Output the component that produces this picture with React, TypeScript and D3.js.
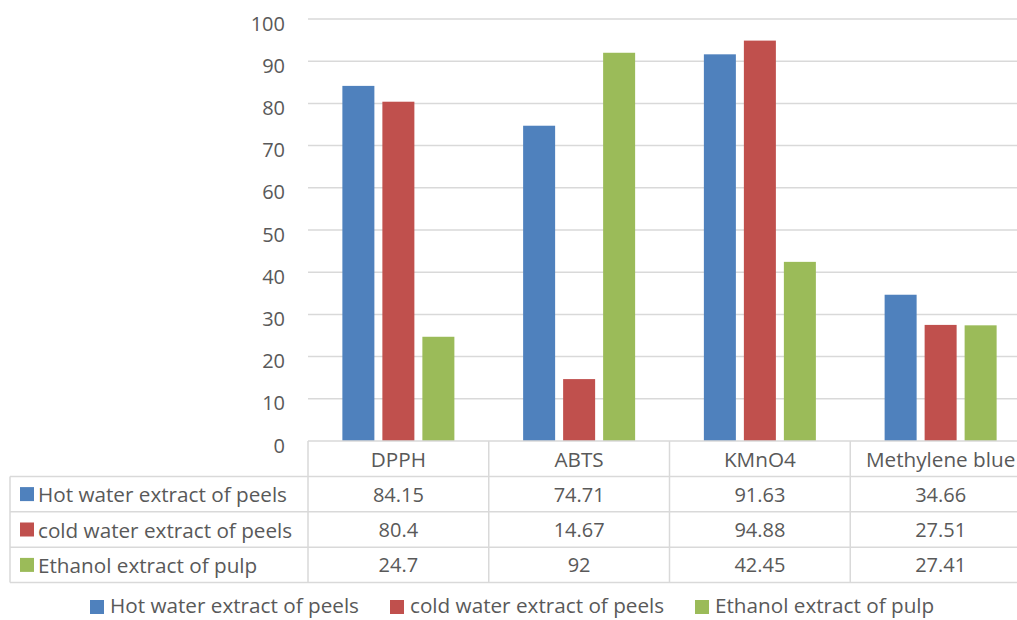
import React from "react";
import * as d3 from "d3";

const categories = ["DPPH", "ABTS", "KMnO4", "Methylene blue"];
const seriesNames = [
  "Hot water extract of peels",
  "cold water extract of peels",
  "Ethanol extract of pulp",
];
const hotWater = [84.15, 74.71, 91.63, 34.66];
const coldWater = [80.4, 14.67, 94.88, 27.51];
const ethanol = [24.7, 92, 42.45, 27.41];
const tableLabels = [
  ["84.15", "74.71", "91.63", "34.66"],
  ["80.4", "14.67", "94.88", "27.51"],
  ["24.7", "92", "42.45", "27.41"],
];
const yTicks = [0, 10, 20, 30, 40, 50, 60, 70, 80, 90, 100];
const colors = ["#4F81BD", "#C0504D", "#9BBB59"];

const W = 1017;
const H = 620;
const FONT = "'Open Sans', Lato, sans-serif";
const FS_TEXT = 20.7;
const FS_NUM = 20;
const TEXT = "#595959";
const GRID = "#D9D9D9";

export default function App() {
  const series = [hotWater, coldWater, ethanol];
  const plotLeft = 308;
  const plotRight = 1031;
  const plotTop = 19;
  const plotBottom = 441;

  const x = d3.scaleBand<string>().domain(categories).range([plotLeft, plotRight]).padding(0);
  const bw = x.bandwidth();
  const groupW = 112;
  const inner = d3
    .scaleBand<number>()
    .domain([0, 1, 2])
    .range([(bw - groupW) / 2, (bw + groupW) / 2])
    .paddingInner(0.2)
    .paddingOuter(0);
  const y = d3.scaleLinear().domain([0, 100]).range([plotBottom, plotTop]);

  const tableLeft = 10;
  const rowH = 35.4;
  const headerTop = plotBottom;
  const rowTops = [0, 1, 2, 3].map((i) => headerTop + rowH * i);
  const tableBottom = headerTop + rowH * 4;

  const legendItems = [
    { x: 90, label: seriesNames[0] },
    { x: 390, label: seriesNames[1] },
    { x: 695, label: seriesNames[2] },
  ];

  return (
    <svg
      width={W}
      height={H}
      style={{ position: "absolute", left: 0, top: 0, background: "#fff" }}
      fontFamily={FONT}
    >
      {/* gridlines */}
      {yTicks.slice(1).map((t) => (
        <line key={t} x1={plotLeft} x2={W} y1={y(t)} y2={y(t)} stroke={GRID} strokeWidth={1.5} />
      ))}
      {/* y-axis labels */}
      {yTicks.map((t) => (
        <text
          key={t}
          x={285}
          y={y(t) + 4}
          textAnchor="end"
          dominantBaseline="central"
          fontSize={FS_NUM}
          fill={TEXT}
        >
          {t}
        </text>
      ))}
      {/* bars */}
      {categories.map((c, ci) =>
        series.map((s, si) => (
          <rect
            key={c + si}
            x={(x(c) as number) + (inner(si) as number)}
            y={y(s[ci])}
            width={inner.bandwidth()}
            height={y(0) - y(s[ci])}
            fill={colors[si]}
          />
        ))
      )}
      {/* data table */}
      <g stroke={GRID} strokeWidth={1.5} fill="none">
        <line x1={plotLeft} x2={W} y1={headerTop} y2={headerTop} />
        {rowTops.slice(1).map((ry, i) => (
          <line key={i} x1={tableLeft} x2={W} y1={ry} y2={ry} />
        ))}
        <line x1={tableLeft} x2={W} y1={tableBottom} y2={tableBottom} />
        <line x1={tableLeft} x2={tableLeft} y1={rowTops[1]} y2={tableBottom} />
        {categories.map((c) => (
          <line key={c} x1={x(c)} x2={x(c)} y1={headerTop} y2={tableBottom} />
        ))}
      </g>
      {categories.map((c) => (
        <text
          key={c}
          x={(x(c) as number) + bw / 2}
          y={headerTop + rowH / 2}
          textAnchor="middle"
          dominantBaseline="central"
          fontSize={FS_TEXT}
          fill={TEXT}
        >
          {c}
        </text>
      ))}
      {seriesNames.map((name, si) => (
        <g key={name}>
          <rect x={20} y={rowTops[si + 1] + rowH / 2 - 7} width={14} height={14} fill={colors[si]} />
          <text x={38} y={rowTops[si + 1] + rowH / 2} dominantBaseline="central" fontSize={FS_TEXT} fill={TEXT}>
            {name}
          </text>
          {categories.map((c, ci) => (
            <text
              key={c}
              x={(x(c) as number) + bw / 2}
              y={rowTops[si + 1] + rowH / 2}
              textAnchor="middle"
              dominantBaseline="central"
              fontSize={FS_NUM}
              fill={TEXT}
            >
              {tableLabels[si][ci]}
            </text>
          ))}
        </g>
      ))}
      {/* legend */}
      {legendItems.map((it, i) => (
        <g key={it.label}>
          <rect x={it.x} y={600} width={14} height={14} fill={colors[i]} />
          <text x={it.x + 20} y={605} dominantBaseline="central" fontSize={FS_TEXT} fill={TEXT}>
            {it.label}
          </text>
        </g>
      ))}
    </svg>
  );
}
